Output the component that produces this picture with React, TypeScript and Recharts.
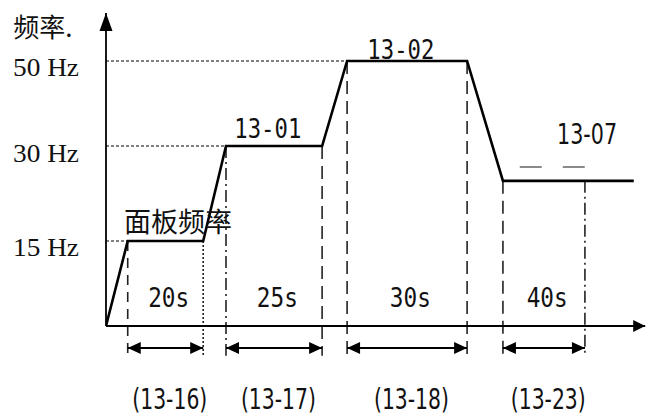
import React from 'react';
import { LineChart, Line, XAxis, YAxis, ReferenceLine, ReferenceDot } from 'recharts';

// ---- data (schematic time units on x, frequency in Hz on y) ----
const timePoints = [0, 4, 17.9, 22.1, 39.8, 44.4, 66.5, 73.1, 97.2];
const freqValues = [0, 15, 15, 30, 30, 50, 50, 24.5, 24.5];

const yTicks = [15, 30, 50];
const yUnit = 'Hz';
const yTitle = '频率.';
const panelLabel = '面板频率';

const holdStarts = [4, 22.1, 44.4, 73.1];
const holdEnds = [17.9, 39.8, 66.5, 88.2];
const holdLevels = [15, 30, 50, 24.5];
const holdDurations = ['20s', '25s', '30s', '40s'];
const holdParams = ['(13-16)', '(13-17)', '(13-18)', '(13-23)'];

const levelParams = ['13-01', '13-02', '13-07'];
const levelParamX = [29.8, 54.3, 88.6];
const levelParamY = [34.1, 52.8, 32.8];

const lowLevelGuide = { from: 76.2, to: 88.2, level: 26.7 };

const axisTopValue = 61.8;
const axisEndTime = 99.3;
const durationRowY = 4.9;
const arrowRowY = -4.9;
const paramRowY = -16.4;
const verticalBottom = -6.6;

// ---- styles ----
const startDash = ['10 7', '12 4 2 4', '13 7', '13 7'];
const endDash = ['2 2', '13 7', '13 7', '12 4 2 4'];

const data = timePoints.map((t, i) => ({ t, f: freqValues[i] }));

// piecewise-linear scale (schematic, non-uniform frequency axis)
const yKnotValues = [-20, 0, 15, 30, 50, 65];
const yKnotFracs = [0, 0.2163, 0.4207, 0.649, 0.8534, 1];

function makePiecewiseScale(kv: number[], kf: number[]): any {
  let dom = [kv[0], kv[kv.length - 1]];
  let rng = [0, 1];
  const s: any = (v: number) => {
    const n = kv.length;
    let i = 0;
    while (i < n - 2 && v > kv[i + 1]) i++;
    const t = (v - kv[i]) / (kv[i + 1] - kv[i]);
    const f = kf[i] + t * (kf[i + 1] - kf[i]);
    return rng[0] + f * (rng[1] - rng[0]);
  };
  s.domain = (...args: any[]) => {
    if (!args.length) return dom.slice();
    dom = [...args[0]];
    return s;
  };
  s.range = (...args: any[]) => {
    if (!args.length) return rng.slice();
    rng = [...args[0]];
    return s;
  };
  s.copy = () => {
    const c = makePiecewiseScale(kv, kf);
    c.domain(dom);
    c.range(rng);
    return c;
  };
  s.ticks = () => kv.slice();
  s.tickFormat = () => (v: number) => String(v);
  return s;
}
const yScale = makePiecewiseScale(yKnotValues, yKnotFracs);

function arrowShape(opts: { start?: boolean; end?: boolean; head: number; half: number; width: number }) {
  return (p: any) => {
    const { x1, y1, x2, y2 } = p;
    const dx = x2 - x1;
    const dy = y2 - y1;
    const len = Math.hypot(dx, dy) || 1;
    const ux = dx / len;
    const uy = dy / len;
    const nx = -uy;
    const ny = ux;
    const L = opts.head;
    const H = opts.half;
    const tri = (tx: number, ty: number, ax: number, ay: number) =>
      `${tx},${ty} ${tx - ax * L + nx * H},${ty - ay * L + ny * H} ${tx - ax * L - nx * H},${ty - ay * L - ny * H}`;
    return (
      <g>
        <line x1={x1} y1={y1} x2={x2} y2={y2} stroke="#000" strokeWidth={opts.width} />
        {opts.end && <polygon points={tri(x2, y2, ux, uy)} fill="#000" />}
        {opts.start && <polygon points={tri(x1, y1, -ux, -uy)} fill="#000" />}
      </g>
    );
  };
}

function textShape(text: string, style: React.CSSProperties, anchor: 'start' | 'middle' | 'end', fit?: number) {
  return (p: any) => (
    <text x={p.cx} y={p.cy} textAnchor={anchor} dominantBaseline="central" fill="#111" style={style}
      {...(fit ? { textLength: fit, lengthAdjust: 'spacingAndGlyphs' } : {})}>
      {text}
    </text>
  );
}

const monoFont: React.CSSProperties = { fontFamily: '"DejaVu Sans Mono", monospace', fontSize: 26 };
const narrowFont: React.CSSProperties = { fontFamily: '"DejaVu Sans Condensed", "Liberation Sans", sans-serif', fontSize: 28 };
const cjkFont: React.CSSProperties = { fontFamily: '"Noto Sans CJK SC", sans-serif', fontSize: 26 };

const YTick = (p: any) => (
  <text x={p.x} y={p.y + 7} textAnchor="end" dominantBaseline="central" fill="#111"
    textLength={66} lengthAdjust="spacingAndGlyphs"
    style={{ fontFamily: '"Liberation Serif", serif', fontSize: 26 }}>
    {`${p.payload.value} ${yUnit}`}
  </text>
);

export default function App() {
  return (
    <div style={{ position: 'absolute', left: 0, top: 0, width: 649, height: 416, background: '#fff' }}>
      <LineChart width={649} height={416} data={data} margin={{ top: 0, right: 0, bottom: 0, left: 0 }}>
        <XAxis type="number" dataKey="t" domain={[0, 100]} hide allowDataOverflow />
        <YAxis
          type="number"
          domain={[-20, 65]}
          scale={yScale}
          ticks={yTicks}
          width={106}
          axisLine={false}
          tickLine={false}
          tickSize={0}
          tickMargin={27}
          tick={<YTick />}
          allowDataOverflow
        />

        {/* horizontal dashed guides */}
        {yTicks.map((lv, i) => (
          <ReferenceLine key={`h${i}`} segment={[{ x: 0, y: lv }, { x: holdStarts[i], y: lv }]}
            stroke="#555" strokeWidth={1.3} strokeDasharray="3 2" ifOverflow="visible" />
        ))}
        <ReferenceLine segment={[{ x: lowLevelGuide.from, y: lowLevelGuide.level }, { x: lowLevelGuide.to, y: lowLevelGuide.level }]}
          stroke="#666" strokeWidth={1.5} strokeDasharray="22 21" ifOverflow="visible" />

        {/* vertical dashed lines */}
        {holdStarts.map((x, i) => (
          <ReferenceLine key={`vs${i}`} segment={[{ x, y: holdLevels[i] }, { x, y: verticalBottom }]}
            stroke="#222" strokeWidth={1.6} strokeDasharray={startDash[i]} ifOverflow="visible" />
        ))}
        {holdEnds.map((x, i) => (
          <ReferenceLine key={`ve${i}`} segment={[{ x, y: holdLevels[i] }, { x, y: verticalBottom }]}
            stroke="#222" strokeWidth={1.6} strokeDasharray={endDash[i]} ifOverflow="visible" />
        ))}

        {/* axes with arrows */}
        <ReferenceLine segment={[{ x: 0, y: 0 }, { x: axisEndTime, y: 0 }]} ifOverflow="visible"
          shape={arrowShape({ end: true, head: 12, half: 6, width: 1.8 })} />
        <ReferenceLine segment={[{ x: 0, y: 0 }, { x: 0, y: axisTopValue }]} ifOverflow="visible"
          shape={arrowShape({ end: true, head: 18, half: 6.5, width: 1.8 })} />

        {/* dimension arrows */}
        {holdStarts.map((x, i) => (
          <ReferenceLine key={`d${i}`} segment={[{ x, y: arrowRowY }, { x: holdEnds[i], y: arrowRowY }]} ifOverflow="visible"
            shape={arrowShape({ start: true, end: true, head: 13, half: 6, width: 2 })} />
        ))}

        <Line type="linear" dataKey="f" stroke="#000" strokeWidth={2.6} dot={false} isAnimationActive={false} />

        {/* texts */}
        <ReferenceDot x={-17.1} y={58.85} r={0} ifOverflow="visible" shape={textShape(yTitle, cjkFont, 'start')} />
        <ReferenceDot x={3.3} y={18.2} r={0} ifOverflow="visible" shape={textShape(panelLabel, { ...cjkFont, fontSize: 27 }, 'start')} />
        {levelParams.map((s, i) => (
          <ReferenceDot key={`lp${i}`} x={levelParamX[i]} y={levelParamY[i]} r={0} ifOverflow="visible"
            shape={textShape(s, i < 2 ? monoFont : narrowFont, 'middle', i < 2 ? 67 : 60)} />
        ))}
        {holdDurations.map((s, i) => (
          <ReferenceDot key={`hd${i}`} x={(holdStarts[i] + holdEnds[i]) / 2 + 0.6} y={durationRowY} r={0} ifOverflow="visible"
            shape={textShape(s, monoFont, 'middle', 41)} />
        ))}
        {holdParams.map((s, i) => (
          <ReferenceDot key={`hp${i}`} x={(holdStarts[i] + holdEnds[i]) / 2 + 0.8} y={paramRowY} r={0} ifOverflow="visible"
            shape={textShape(s, narrowFont, 'middle', 75)} />
        ))}
      </LineChart>
    </div>
  );
}
